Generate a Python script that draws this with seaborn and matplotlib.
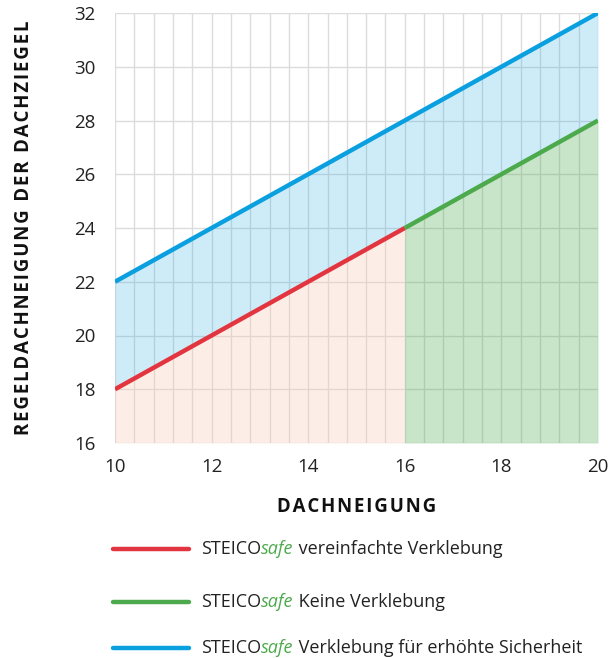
import seaborn as sns
import matplotlib.pyplot as plt
import numpy as np
import pandas as pd
from matplotlib.lines import Line2D

# data
x_vereinfacht = [10, 16]
y_vereinfacht = [18, 24]
x_keine = [16, 20]
y_keine = [24, 28]
x_erhoeht = [10, 20]
y_erhoeht = [22, 32]

labels = ["vereinfachte Verklebung", "Keine Verklebung", "Verklebung für erhöhte Sicherheit"]
colors = ["#e3353f", "#4caa4c", "#0aa0e0"]

sns.set_style("white")
plt.rcParams['font.family'] = ['Open Sans', 'DejaVu Sans']

fig = plt.figure(figsize=(6.1, 6.58), dpi=100)
ax = fig.add_axes([115/610, 1-443/658, (598-115)/610, (443-13)/658])

# fills (translucent so grid shows through)
ax.fill_between(x_erhoeht, [18, 28], y_erhoeht, color=colors[2], alpha=0.2, lw=0, zorder=1)
ax.fill_between(x_vereinfacht, 16, y_vereinfacht, color="#f8c8b0", alpha=0.3, lw=0, zorder=1)
ax.fill_between(x_keine, 16, y_keine, color=colors[1], alpha=0.3, lw=0, zorder=1)

df = pd.concat([
    pd.DataFrame({"x": x_vereinfacht, "y": y_vereinfacht, "s": labels[0]}),
    pd.DataFrame({"x": x_keine, "y": y_keine, "s": labels[1]}),
    pd.DataFrame({"x": x_erhoeht, "y": y_erhoeht, "s": labels[2]}),
])
sns.lineplot(data=df, x="x", y="y", hue="s", palette=colors, lw=3.2,
             legend=False, ax=ax, zorder=3, solid_capstyle="butt")

ax.set_xlim(10, 20)
ax.set_ylim(16, 32)
ax.set_xticks(np.arange(10, 21, 2))
ax.set_xticks(np.arange(10, 20.01, 0.4), minor=True)
ax.set_yticks(np.arange(16, 33, 2))
ax.grid(which="both", color="#dcdcdc", lw=1)
ax.set_axisbelow(True)
for s in ax.spines.values():
    s.set_visible(False)
ax.tick_params(axis="both", which="both", length=0, labelsize=13.5, colors="#222222")
ax.tick_params(axis="y", pad=14)
ax.tick_params(axis="x", pad=11)

sp = "\u200a"
ax.set_xlabel(sp.join("DACHNEIGUNG"), fontsize=13.4, fontweight="bold", labelpad=15, color="#111111")
ax.set_ylabel(sp.join("REGELDACHNEIGUNG DER DACHZIEGEL"), fontsize=13.4, fontweight="bold",
              labelpad=29, color="#111111")

# legend drawn by hand (mixed styling)
rows_y = [549, 602, 648]
for c, lab, py in zip(colors, labels, rows_y):
    yf = 1 - py/658
    fig.add_artist(Line2D([113/610, 189/610], [yf, yf], color=c, lw=3.2,
                          transform=fig.transFigure))
    t1 = fig.text(201/610, yf, "STEICO", fontsize=13, va="center", ha="left", color="#222222")
    t2 = ax.annotate("safe", xy=(1, 0), xycoords=t1, va="bottom", ha="left",
                     fontsize=13, style="italic", color="#4caa4c", annotation_clip=False)
    ax.annotate(" " + lab, xy=(1, 0), xycoords=t2, va="bottom", ha="left",
                fontsize=13, color="#222222", annotation_clip=False)

fig.savefig("out.png", dpi=100)
